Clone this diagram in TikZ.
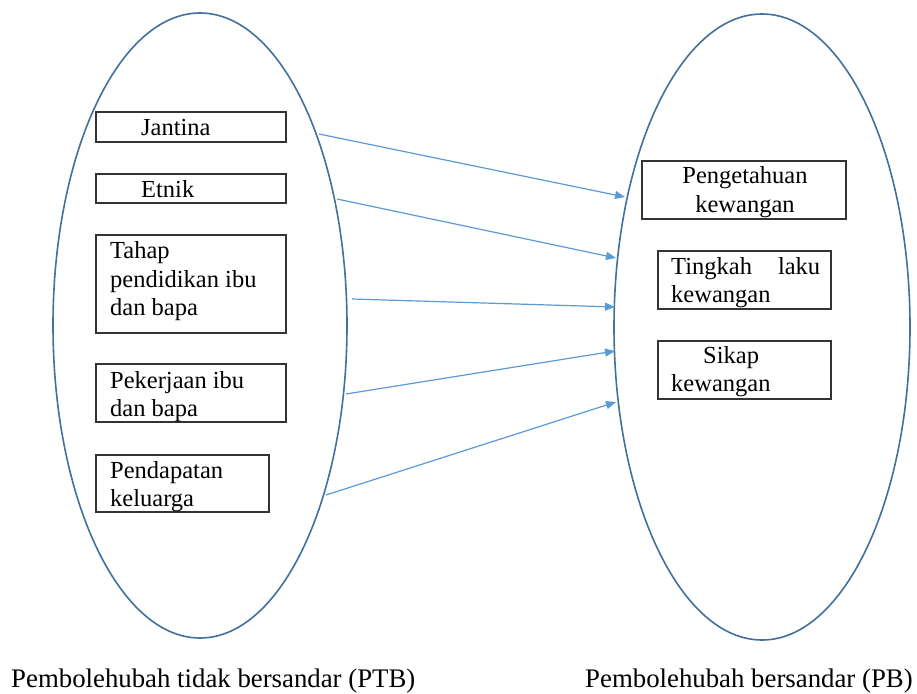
\documentclass[tikz,border=0pt]{standalone}
\usepackage{fontspec}
\setmainfont{Liberation Serif}
\usetikzlibrary{shapes.geometric,arrows.meta}
\definecolor{ellcol}{HTML}{41719C}
\definecolor{arrcol}{HTML}{5B9BD5}
\definecolor{boxcol}{HTML}{333333}
\begin{document}
\begin{tikzpicture}[x=1pt,y=-1pt,
  ell/.style={ellipse, draw=ellcol, line width=1.6pt, inner sep=0pt},
  box/.style={rectangle, draw=boxcol, line width=1.2pt, inner sep=0pt},
  txt/.style={anchor=base west, inner sep=0pt, font=\fontsize{24.5}{29}\selectfont},
  txtc/.style={txt, anchor=base},
  lbl/.style={anchor=base west, inner sep=0pt, font=\fontsize{26.8}{32}\selectfont},
  arr/.style={draw=arrcol, line width=1.2pt, -{Triangle[length=10pt,width=8pt]}}]
\useasboundingbox[fill=white] (0,0) rectangle (917,693);

% ellipses
\node[ell, minimum width=294pt, minimum height=625pt] (L) at (200,325.5) {};
\node[ell, minimum width=296pt, minimum height=626pt] (R) at (762,327) {};

% left boxes
\node[box, minimum width=190pt, minimum height=30pt] (bJ) at (191,127) {};
\node[box, minimum width=190pt, minimum height=29pt] (bE) at (191,188.5) {};
\node[box, minimum width=190pt, minimum height=98pt] (bT) at (191,284) {};
\node[box, minimum width=190pt, minimum height=58pt] (bP) at (191,393) {};
\node[box, minimum width=173pt, minimum height=57pt] (bK) at (182.5,483.5) {};

% right boxes
\node[box, minimum width=204pt, minimum height=58pt] (bG) at (744,190) {};
\node[box, minimum width=173pt, minimum height=58pt] (bL) at (744.5,280) {};
\node[box, minimum width=173pt, minimum height=58pt] (bS) at (744.5,370) {};

% left texts
\node[txt] (tJ) at (141,135) {Jantina};
\node[txt] (tE) at (141,197) {Etnik};
\node[txt] (tT1) at (110,258) {Tahap};
\node[txt] (tT2) at (110,287) {pendidikan ibu};
\node[txt] (tT3) at (110,315) {dan bapa};
\node[txt] (tP1) at (110,388) {Pekerjaan ibu};
\node[txt] (tP2) at (110,416) {dan bapa};
\node[txt] (tK1) at (110,478) {Pendapatan};
\node[txt] (tK2) at (110,506) {keluarga};

% right texts
\node[txtc] (tG1) at (745,183) {Pengetahuan};
\node[txtc] (tG2) at (745,212) {kewangan};
\node[txt] (tL1) at (671,274) {\makebox[149pt][s]{Tingkah\hfill laku}};
\node[txt] (tL2) at (671,302) {kewangan};
\node[txt] (tS1) at (703,363) {Sikap};
\node[txt] (tS2) at (671,391) {kewangan};

% labels
\node[lbl] (lblL) at (11,687) {Pembolehubah tidak bersandar (PTB)};
\node[lbl] (lblR) at (585,687) {Pembolehubah bersandar (PB)};

% arrow end points
\coordinate (s1) at (319,134);
\coordinate (s2) at (337,199);
\coordinate (s3) at (352,299);
\coordinate (s4) at (346,394);
\coordinate (s5) at (326,495);
\coordinate (e1) at (625,197);
\coordinate (e2) at (616,258);
\coordinate (e3) at (615,307);
\coordinate (e4) at (615,351);
\coordinate (e5) at (616,402);

\draw[arr] (s1) -- (e1);
\draw[arr] (s2) -- (e2);
\draw[arr] (s3) -- (e3);
\draw[arr] (s4) -- (e4);
\draw[arr] (s5) -- (e5);
\end{tikzpicture}
\end{document}
